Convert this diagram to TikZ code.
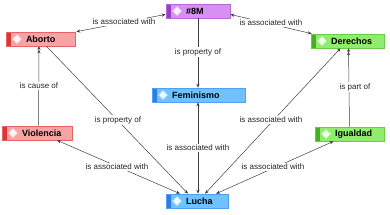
\documentclass[tikz,border=0pt]{standalone}
\usepackage{fontspec}
\setmainfont{Liberation Sans}
\usetikzlibrary{arrows.meta}
\definecolor{purfill}{HTML}{D790F2}
\definecolor{purdraw}{HTML}{B868D8}
\definecolor{purstrip}{HTML}{9A3FC0}
\definecolor{redfill}{HTML}{F5A3A3}
\definecolor{reddraw}{HTML}{E86464}
\definecolor{redstrip}{HTML}{E03434}
\definecolor{grnfill}{HTML}{8FEC6C}
\definecolor{grndraw}{HTML}{68CC46}
\definecolor{grnstrip}{HTML}{45AE22}
\definecolor{blufill}{HTML}{6FC2FF}
\definecolor{bludraw}{HTML}{4FA2F2}
\definecolor{blustrip}{HTML}{2D7CE8}
\newcommand{\entl}[2]{\hbox to #1{\hspace*{20pt}\textbf{#2}\hfil}}
\begin{document}
\begin{tikzpicture}[x=1pt,y=-1pt,
  ent/.style n args={3}{draw=#2, fill=#1, line width=0.6pt, inner xsep=0pt,
    inner ysep=0pt, minimum height=14pt, font=\fontsize{9}{10}\selectfont,
    path picture={
      \fill[#3] (path picture bounding box.north west) rectangle
        ([xshift=5pt]path picture bounding box.south west);
      \filldraw[draw=white!45!#1, fill=white!88!#1, line width=0.6pt]
        ([xshift=11pt]path picture bounding box.west) +(-4.5pt,0) -- +(0,4.5pt)
        -- +(4.5pt,0) -- +(0,-4.5pt) -- cycle;}},
  purent/.style={ent={purfill}{purdraw}{purstrip}},
  redent/.style={ent={redfill}{reddraw}{redstrip}},
  grnent/.style={ent={grnfill}{grndraw}{grnstrip}},
  bluent/.style={ent={blufill}{bludraw}{blustrip}},
  lbl/.style={fill=white, inner sep=0.8pt, font=\fontsize{8}{9}\selectfont, text=black!85},
  edge/.style={draw=black!75, line width=0.5pt},
  uni/.style={edge, -{Stealth[length=4pt,width=3.2pt]}},
  bi/.style={edge, {Stealth[length=4pt,width=3.2pt]}-{Stealth[length=4pt,width=3.2pt]}},
  dbl/.style={edge, -{Stealth[length=3.5pt,width=3.2pt] Stealth[length=3.5pt,width=3.2pt]}}]
\useasboundingbox[fill=white] (0,0) rectangle (390,214);

\node[purent] (m8) at (198,11) {\entl{64pt}{\#8M}};
\node[redent] (aborto) at (40.5,39) {\entl{69pt}{Aborto}};
\node[grnent] (derechos) at (347.5,41) {\entl{73pt}{Derechos}};
\node[bluent] (feminismo) at (198.5,95) {\entl{93pt}{Feminismo}};
\node[redent] (violencia) at (37,133) {\entl{70pt}{Violencia}};
\node[grnent] (igualdad) at (349.5,134) {\entl{69pt}{Igualdad}};
\node[bluent] (lucha) at (197,201) {\entl{62pt}{Lucha}};

\draw[bi] (m8.186) -- ([xshift=1pt]aborto.north east);
\draw[bi] (m8.354) -- ([xshift=1pt]derechos.north west);
\draw[uni] (m8.south) -- ([xshift=-0.5pt]feminismo.north);
\draw[dbl] ([xshift=1.5pt]violencia.north) -- ([xshift=-1.5pt]aborto.south);
\draw[uni] ([xshift=6pt]aborto.south) -- ([xshift=-9pt]lucha.north);
\draw[bi] ([xshift=20pt]violencia.south) -- ([xshift=-17pt]lucha.north);
\draw[bi] ([xshift=-0.5pt]feminismo.south) -- ([xshift=1pt]lucha.north);
\draw[bi] ([xshift=-7pt]derechos.south) -- ([xshift=8pt]lucha.north);
\draw[bi] ([xshift=-16pt]igualdad.south) -- ([xshift=19pt]lucha.north);
\draw[dbl] (igualdad.north) -- ([xshift=1pt]derechos.south);

\node[lbl] (l1) at (124,22) {is associated with};
\node[lbl] (l2) at (271,23) {is associated with};
\node[lbl] (l3) at (198,52) {is property of};
\node[lbl] (l4) at (39,86) {is cause of};
\node[lbl] (l5) at (355,87) {is part of};
\node[lbl] (l6) at (118,120) {is property of};
\node[lbl] (l7) at (271,120) {is associated with};
\node[lbl] (l8) at (198,148) {is associated with};
\node[lbl] (l9) at (117,167) {is associated with};
\node[lbl] (l10) at (273,167) {is associated with};
\end{tikzpicture}
\end{document}
